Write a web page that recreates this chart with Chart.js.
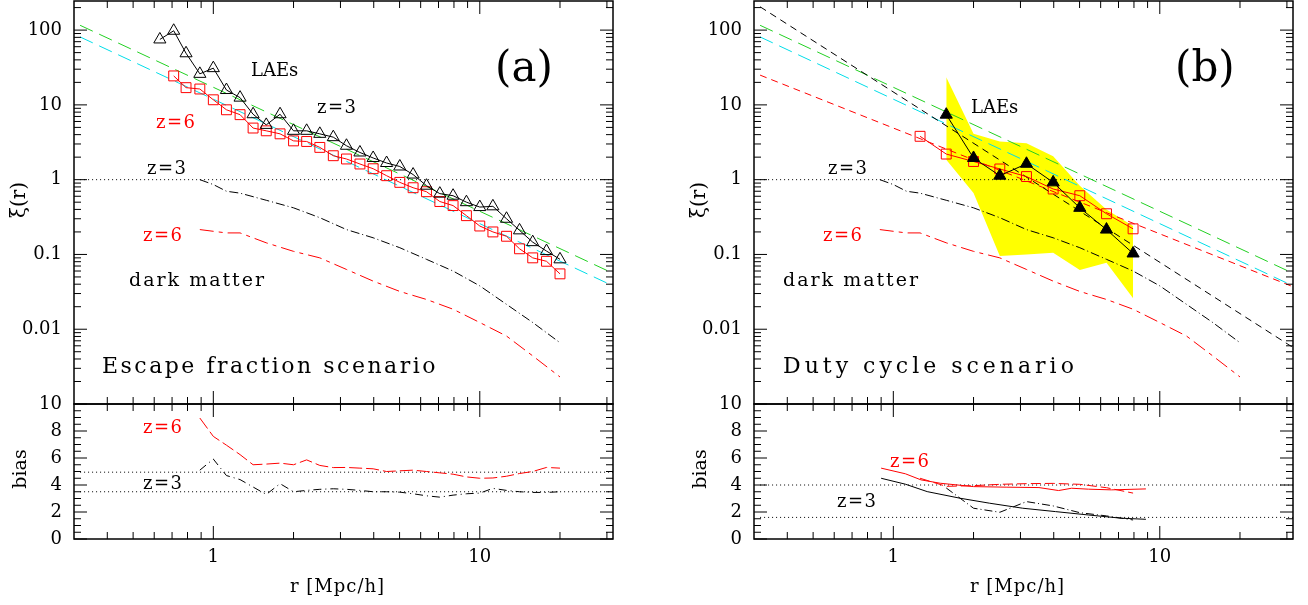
<!DOCTYPE html>
<html>
<head>
<meta charset="utf-8">
<title>LAE correlation functions</title>
<script src="https://cdn.jsdelivr.net/npm/chart.js@4.4.1/dist/chart.umd.min.js"></script>
<style>
html,body{margin:0;padding:0;background:#fff;overflow:hidden}
#wrap{position:relative;width:1308px;height:605px;overflow:hidden;background:#fff}
#wrap canvas{position:absolute}
.lb{position:absolute;font-family:'DejaVu Serif',serif;line-height:1;white-space:nowrap;color:#000}
.red{color:#ff0000}
.rot{position:absolute;font-family:'DejaVu Serif',serif;line-height:1;white-space:nowrap;color:#000;transform:translate(-50%,-50%) rotate(-90deg)}
</style>
</head>
<body>
<div id="wrap">
<canvas id="aTop" width="628" height="410" style="left:0px;top:0px"></canvas>
<canvas id="aBot" width="628" height="215" style="left:0px;top:390px"></canvas>
<canvas id="bTop" width="628" height="410" style="left:680px;top:0px"></canvas>
<canvas id="bBot" width="628" height="215" style="left:680px;top:390px"></canvas>

<!-- panel (a) -->
<div class="lb" style="left:251px;top:61px;font-size:18px">LAEs</div>
<div class="lb" style="left:317px;top:98px;font-size:18px;letter-spacing:1.5px">z=3</div>
<div class="lb red" style="left:156px;top:113px;font-size:18px;letter-spacing:1.5px">z=6</div>
<div class="lb" style="left:147px;top:159px;font-size:18px;letter-spacing:1.5px">z=3</div>
<div class="lb red" style="left:143px;top:226px;font-size:18px;letter-spacing:1.5px">z=6</div>
<div class="lb" style="left:129px;top:270px;font-size:19px;letter-spacing:2px">dark matter</div>
<div class="lb" style="left:495px;top:46px;font-size:42px">(a)</div>
<div class="lb" style="left:102px;top:355px;font-size:22px;letter-spacing:2.5px">Escape fraction scenario</div>
<div class="lb red" style="left:143px;top:418px;font-size:18px;letter-spacing:1.5px">z=6</div>
<div class="lb" style="left:143px;top:474px;font-size:18px;letter-spacing:1.5px">z=3</div>
<div class="lb" style="left:290px;top:577px;font-size:18px;letter-spacing:1px">r [Mpc/h]</div>
<div class="rot" style="left:18px;top:200px;font-size:20px">ξ(r)</div>
<div class="rot" style="left:19px;top:469px;font-size:19px">bias</div>

<!-- panel (b) -->
<div class="lb" style="left:971px;top:98px;font-size:18px">LAEs</div>
<div class="lb" style="left:828px;top:159px;font-size:18px;letter-spacing:1.5px">z=3</div>
<div class="lb red" style="left:823px;top:226px;font-size:18px;letter-spacing:1.5px">z=6</div>
<div class="lb" style="left:783px;top:270px;font-size:19px;letter-spacing:2px">dark matter</div>
<div class="lb" style="left:1175px;top:46px;font-size:42px">(b)</div>
<div class="lb" style="left:783px;top:355px;font-size:22px;letter-spacing:4px">Duty cycle scenario</div>
<div class="lb red" style="left:890px;top:452px;font-size:18px;letter-spacing:1.5px">z=6</div>
<div class="lb" style="left:837px;top:492px;font-size:18px;letter-spacing:1.5px">z=3</div>
<div class="lb" style="left:970px;top:577px;font-size:18px;letter-spacing:1px">r [Mpc/h]</div>
<div class="rot" style="left:698px;top:200px;font-size:20px">ξ(r)</div>
<div class="rot" style="left:699px;top:469px;font-size:19px">bias</div>
</div>

<script>
// ---------- axis ranges and ticks ----------
const R_RANGE = [0.3162, 31.62];
const XI_RANGE = [0.001, 245];
const BIAS_RANGE = [0, 10];
const rTickLabels = [1, 10];
const rMinorTicks = [0.4,0.5,0.6,0.7,0.8,0.9,2,3,4,5,6,7,8,9,20,30];
const xiTickLabels = [0.01, 0.1, 1, 10, 100];
const xiMinorTicks = [0.002,0.003,0.004,0.005,0.006,0.007,0.008,0.009,
  0.02,0.03,0.04,0.05,0.06,0.07,0.08,0.09,
  0.2,0.3,0.4,0.5,0.6,0.7,0.8,0.9,
  2,3,4,5,6,7,8,9,
  20,30,40,50,60,70,80,90,200];
const biasTickLabels = [0, 2, 4, 6, 8, 10];
const biasMinorTicks = [0.5,1,1.5,2.5,3,3.5,4.5,5,5.5,6.5,7,7.5,8.5,9,9.5];

// ---------- panel (a): escape fraction scenario ----------
const rTri_a = [0.63,0.71,0.79,0.89,1.0,1.12,1.26,1.41,1.58,1.78,2.0,2.24,2.51,2.82,3.16,3.55,3.98,4.47,5.01,5.62,6.31,7.08,7.94,8.91,10.0,11.2,12.6,14.1,15.8,17.8,20.0];
const xiTri_a = [75,98,49,26,31,15.8,12.5,7.5,5.4,7.5,4.5,4.5,4.1,3.7,2.84,2.31,1.95,1.67,1.5,1.17,0.83,0.65,0.61,0.50,0.43,0.44,0.30,0.21,0.146,0.111,0.086];
const rSq_a = [0.71,0.79,0.89,1.0,1.12,1.26,1.41,1.58,1.78,2.0,2.24,2.51,2.82,3.16,3.55,3.98,4.47,5.01,5.62,6.31,7.08,7.94,8.91,10.0,11.2,12.6,14.1,15.8,17.8,20.0];
const xiSq_a = [24.4,17.0,16.3,11.7,8.6,7.4,4.9,4.5,4.1,3.3,3.24,2.7,2.09,1.89,1.62,1.40,1.13,0.92,0.78,0.69,0.51,0.45,0.33,0.24,0.20,0.175,0.119,0.090,0.081,0.055];

// power-law fits (shown at axis edges)
const rEdge = [0.3162, 31.62];
const xiGreenPL = [116, 0.056];
const xiCyanPL = [81, 0.038];
const xiBlackPL = [205, 0.0057];
const xiRedPL = [25, 0.037];
const xiUnity = [1, 1];

// dark matter
const rDM = [0.89,1.0,1.12,1.26,1.58,2.0,2.51,3.16,3.98,5.01,6.31,7.94,10.0,12.6,15.8,20.0];
const xiDM3 = [1.0,0.86,0.70,0.66,0.53,0.42,0.31,0.215,0.167,0.123,0.086,0.06,0.038,0.0215,0.0123,0.0066];
const xiDM6 = [0.215,0.204,0.194,0.194,0.143,0.11,0.09,0.063,0.044,0.032,0.025,0.0185,0.0123,0.0081,0.0044,0.0023];

// bias (a)
const rBias_a = [0.89,1.0,1.12,1.26,1.41,1.58,1.78,2.0,2.24,2.51,2.82,3.16,3.55,3.98,4.47,5.01,5.62,6.31,7.08,7.94,8.91,10.0,11.2,12.6,14.1,15.8,17.8,20.0];
const bias6_a = [8.96,7.6,6.95,6.25,5.5,5.55,5.62,5.5,5.86,5.45,5.29,5.3,5.25,5.2,5.0,5.05,5.1,5.0,4.9,4.8,4.6,4.5,4.52,4.65,4.85,5.0,5.3,5.25];
const bias3_a = [5.1,5.92,4.7,4.4,3.85,3.3,4.1,3.5,3.6,3.68,3.72,3.68,3.6,3.5,3.5,3.47,3.35,3.2,3.1,3.25,3.35,3.4,3.75,3.6,3.5,3.45,3.45,3.5];
const biasRef6_a = [4.95, 4.95];
const biasRef3_a = [3.5, 3.5];

// ---------- panel (b): duty cycle scenario ----------
const rTri_b = [1.58,2.0,2.51,3.16,3.98,5.01,6.31,7.94];
const xiTri_b = [7.4,1.95,1.13,1.63,0.92,0.42,0.215,0.103];
const rSq_b = [1.26,1.58,2.0,2.51,3.16,3.98,5.01,6.31,7.94];
const xiSq_b = [3.8,2.2,1.75,1.39,1.1,0.75,0.61,0.35,0.22];
const rBand = [1.58,2.0,2.51,3.16,3.98,5.01,6.31,7.94];
const bandHi = [23.4,4.1,3.24,3.08,2.05,0.83,0.40,0.24];
const bandLo = [1.85,0.665,0.095,0.10,0.105,0.062,0.0775,0.026];

// bias (b)
const rModel6_b = [0.9,1.11,1.27,1.5,2.0,2.65,3.52,4.17,4.67,5.4,6.58,8.87];
const biasModel6_b = [5.25,4.83,4.38,4.13,3.88,3.84,3.81,3.59,3.76,3.69,3.64,3.71];
const rData6_b = [1.26,1.58,2.0,2.51,3.16,3.98,5.01,6.31,7.94];
const biasData6_b = [4.5,3.9,3.95,4.05,4.1,4.12,4.05,3.8,3.4];
const rModel3_b = [0.9,1.11,1.34,1.78,2.3,3.06,4.06,5.4,7.17,8.87];
const biasModel3_b = [4.5,4.06,3.51,3.02,2.65,2.28,2.03,1.78,1.54,1.46];
const rData3_b = [1.58,2.0,2.51,3.16,3.98,5.01,6.31,7.94];
const biasData3_b = [3.78,2.28,1.98,2.77,2.45,1.95,1.71,1.41];
const biasRef6_b = [4.0, 4.0];
const biasRef3_b = [1.6, 1.6];

// ---------- styling ----------
const FONT = "'DejaVu Serif', serif";
const RED = '#ff0000', GREEN = '#22d022', CYAN = '#00dde8', YELLOW = '#ffff00', BLACK = '#000000';
Chart.defaults.font.family = FONT;
Chart.defaults.color = '#000';

function pts(xs, ys) { return xs.map((x, i) => ({x: x, y: ys[i]})); }
function curve(xs, ys, color, dash, extra) {
  return Object.assign({data: pts(xs, ys), borderColor: color, borderWidth: 1, borderDash: dash || [],
    pointRadius: 0, showLine: true, fill: false}, extra || {});
}
function markers(xs, ys, color, style, filled) {
  return curve(xs, ys, color, [], {pointStyle: style, pointRadius: 7, pointBorderColor: color,
    pointBorderWidth: 1, pointBackgroundColor: filled ? color : 'rgba(0,0,0,0)'});
}

const framePlugin = {
  id: 'frame',
  afterDatasetsDraw(chart, args, o) {
    const {ctx, chartArea: a, scales} = chart;
    const sx = scales.x, sy = scales.y;
    ctx.save();
    ctx.strokeStyle = '#000';
    ctx.lineWidth = 1;
    ctx.setLineDash([]);
    const seg = (x1, y1, x2, y2) => { ctx.beginPath(); ctx.moveTo(x1, y1); ctx.lineTo(x2, y2); ctx.stroke(); };
    const xt = (vals, len) => vals.forEach(v => { const p = sx.getPixelForValue(v);
      seg(p, a.bottom, p, a.bottom - len); seg(p, a.top, p, a.top + len); });
    const yt = (vals, len) => vals.forEach(v => { const p = sy.getPixelForValue(v);
      seg(a.left, p, a.left + len, p); seg(a.right, p, a.right - len, p); });
    xt(o.xMaj, 13); xt(o.xMin, 7); yt(o.yMaj, 13); yt(o.yMin, 7);
    ctx.lineWidth = 1.5;
    ctx.strokeRect(a.left, a.top, a.right - a.left, a.bottom - a.top);
    ctx.restore();
  }
};

function noPad(s) { s.paddingTop = 0; s.paddingBottom = 0; s.paddingLeft = 0; s.paddingRight = 0; }
function yAxis(type, range, labels) {
  return {type: type, min: range[0], max: range[1], position: 'left',
    grid: {display: false, drawTicks: false}, border: {display: false},
    afterBuildTicks: s => { s.ticks = labels.map(v => ({value: v})); },
    afterFit: s => { s.width = 74; noPad(s); },
    ticks: {autoSkip: false, padding: 12, color: '#000', font: {size: 18, family: FONT}, callback: v => String(v)}};
}
function xAxis(show) {
  if (!show) return {type: 'logarithmic', min: R_RANGE[0], max: R_RANGE[1], display: false,
    afterFit: s => { noPad(s); }};
  return {type: 'logarithmic', min: R_RANGE[0], max: R_RANGE[1], position: 'bottom',
    grid: {display: false, drawTicks: false}, border: {display: false},
    afterBuildTicks: s => { s.ticks = rTickLabels.map(v => ({value: v})); },
    afterFit: s => { s.height = 66; noPad(s); },
    ticks: {autoSkip: false, maxRotation: 0, minRotation: 0, padding: 8, color: '#000',
      font: {size: 18, family: FONT}, callback: v => String(v)}};
}

function panel(id, datasets, isTop) {
  new Chart(document.getElementById(id), {
    type: 'scatter',
    data: {datasets: datasets},
    options: {
      responsive: false, animation: false, devicePixelRatio: 1,
      layout: {autoPadding: false,
        padding: isTop ? {left: 0, right: 15, top: 1, bottom: 6} : {left: 0, right: 15, top: 14, bottom: 0}},
      elements: {line: {tension: 0}},
      scales: {
        x: xAxis(!isTop),
        y: isTop ? yAxis('logarithmic', XI_RANGE, xiTickLabels) : yAxis('linear', BIAS_RANGE, biasTickLabels)
      },
      plugins: {
        legend: {display: false}, tooltip: {enabled: false},
        frame: {xMaj: rTickLabels, xMin: rMinorTicks,
          yMaj: isTop ? xiTickLabels : biasTickLabels, yMin: isTop ? xiMinorTicks : biasMinorTicks}
      }
    },
    plugins: [framePlugin]
  });
}

const DOT = [1, 3], DASHDOT = [9, 3, 1, 3], LONGDASH = [14, 7], SHORTDASH = [7, 5], DM6 = [14, 5, 4, 5];

panel('aTop', [
  markers(rTri_a, xiTri_a, BLACK, 'triangle', false),
  markers(rSq_a, xiSq_a, RED, 'rect', false),
  curve(rEdge, xiGreenPL, GREEN, LONGDASH),
  curve(rEdge, xiCyanPL, CYAN, LONGDASH),
  curve(rDM, xiDM3, BLACK, DASHDOT),
  curve(rDM, xiDM6, RED, DM6),
  curve(rEdge, xiUnity, BLACK, DOT)
], true);

panel('aBot', [
  curve(rBias_a, bias6_a, RED, [13, 4]),
  curve(rBias_a, bias3_a, BLACK, [8, 4, 1, 4]),
  curve(rEdge, biasRef6_a, BLACK, DOT),
  curve(rEdge, biasRef3_a, BLACK, DOT)
], false);

panel('bTop', [
  markers(rTri_b, xiTri_b, BLACK, 'triangle', true),
  markers(rSq_b, xiSq_b, RED, 'rect', false),
  curve(rEdge, xiBlackPL, BLACK, SHORTDASH),
  curve(rEdge, xiGreenPL, GREEN, LONGDASH),
  curve(rEdge, xiCyanPL, CYAN, LONGDASH),
  curve(rEdge, xiRedPL, RED, SHORTDASH),
  curve(rDM, xiDM3, BLACK, DASHDOT),
  curve(rDM, xiDM6, RED, DM6),
  curve(rEdge, xiUnity, BLACK, DOT),
  curve(rBand, bandHi, 'rgba(0,0,0,0)', [], {borderWidth: 0, fill: '+1', backgroundColor: YELLOW, order: 5}),
  curve(rBand, bandLo, 'rgba(0,0,0,0)', [], {borderWidth: 0, order: 5})
], true);

panel('bBot', [
  curve(rModel6_b, biasModel6_b, RED, []),
  curve(rData6_b, biasData6_b, RED, [10, 4]),
  curve(rModel3_b, biasModel3_b, BLACK, []),
  curve(rData3_b, biasData3_b, BLACK, [8, 3, 1, 3]),
  curve(rEdge, biasRef6_b, BLACK, DOT),
  curve(rEdge, biasRef3_b, BLACK, DOT)
], false);
</script>
</body>
</html>
